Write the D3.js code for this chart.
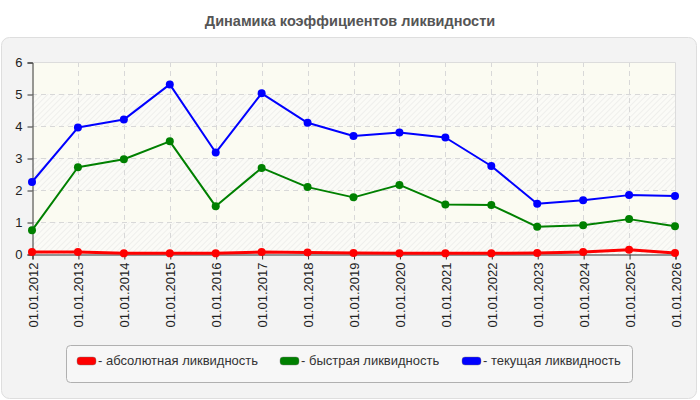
<!DOCTYPE html>
<html>
<head>
<meta charset="utf-8">
<script src="https://cdn.jsdelivr.net/npm/d3@7"></script>
<style>
  body { margin: 0; background: #fff; font-family: "Liberation Sans", Arial, sans-serif; }
</style>
</head>
<body>
<div id="root"></div>
<script>
const width = 700;
const height = 400;

const dates = ["01.01.2012", "01.01.2013", "01.01.2014", "01.01.2015", "01.01.2016",
  "01.01.2017", "01.01.2018", "01.01.2019", "01.01.2020", "01.01.2021",
  "01.01.2022", "01.01.2023", "01.01.2024", "01.01.2025", "01.01.2026"];
const absolute = [0.06, 0.06, 0.02, 0.02, 0.02, 0.06, 0.05, 0.03, 0.02, 0.02, 0.02, 0.03, 0.06, 0.13, 0.03];
const quick = [0.74, 2.71, 2.96, 3.52, 1.49, 2.69, 2.09, 1.77, 2.16, 1.55, 1.53, 0.85, 0.9, 1.09, 0.87];
const current = [2.25, 3.95, 4.2, 5.3, 3.17, 5.02, 4.1, 3.69, 3.8, 3.64, 2.75, 1.57, 1.68, 1.84, 1.81];
const yTicks = [0, 1, 2, 3, 4, 5, 6];
const seriesNames = ["- абсолютная ликвидность", "- быстрая ликвидность", "- текущая ликвидность"];
const seriesColors = ["#ff0000", "#008000", "#0000ff"];

const plotLeft = 32, plotRight = 675, plotTop = 62, plotBottom = 254;

let svg = d3.select("#root")
  .append("svg")
  .attr("width", width)
  .attr("height", height);

let defs = svg.append("defs");
let pattern = defs.append("pattern")
  .attr("id", "hatch")
  .attr("patternUnits", "userSpaceOnUse")
  .attr("width", 4)
  .attr("height", 4)
  .attr("patternTransform", "rotate(45)");
pattern.append("rect").attr("width", 4).attr("height", 4).attr("fill", "#fbfbf7");
pattern.append("line")
  .attr("x1", 0).attr("y1", 0).attr("x2", 0).attr("y2", 4)
  .attr("stroke", "#e9e9e6").attr("stroke-width", 1.3);

// title
svg.append("text")
  .attr("x", 350)
  .attr("y", 26)
  .attr("text-anchor", "middle")
  .style("font-size", "14.5px")
  .style("font-weight", "bold")
  .style("fill", "#555")
  .text("Динамика коэффициентов ликвидности");

// panel
svg.append("rect")
  .attr("x", 1.5).attr("y", 37.5)
  .attr("width", 695).attr("height", 361)
  .attr("rx", 8)
  .attr("fill", "#f3f3f3")
  .attr("stroke", "#dedede");

let xScale = d3.scalePoint().domain(dates).range([plotLeft, plotRight]);
let yScale = d3.scaleLinear().domain([0, 6]).range([plotBottom, plotTop]);

// plot background: alternating plain / hatched bands
svg.append("g")
  .selectAll("rect")
  .data(yTicks.slice(0, -1))
  .enter()
  .append("rect")
  .attr("x", plotLeft)
  .attr("width", plotRight - plotLeft)
  .attr("y", (d) => yScale(d + 1))
  .attr("height", (d) => yScale(d) - yScale(d + 1))
  .attr("fill", (d) => (d % 2 === 0 ? "url(#hatch)" : "#fbfbf2"));

// grid
svg.append("g")
  .selectAll("line")
  .data(yTicks.slice(1, -1))
  .enter()
  .append("line")
  .attr("x1", plotLeft).attr("x2", plotRight)
  .attr("y1", (d) => Math.round(yScale(d)) + 0.5)
  .attr("y2", (d) => Math.round(yScale(d)) + 0.5)
  .attr("stroke", "#d8d8d8")
  .attr("stroke-dasharray", "5,4");

svg.append("g")
  .selectAll("line")
  .data(dates.slice(1, -1))
  .enter()
  .append("line")
  .attr("y1", plotTop).attr("y2", plotBottom)
  .attr("x1", (d) => Math.round(xScale(d)) + 0.5)
  .attr("x2", (d) => Math.round(xScale(d)) + 0.5)
  .attr("stroke", "#d8d8d8")
  .attr("stroke-dasharray", "5,4");

// top & right border of plot
svg.append("path")
  .attr("d", `M${plotLeft},${plotTop + 0.5}H${plotRight + 0.5}V${plotBottom}`)
  .attr("fill", "none")
  .attr("stroke", "#dcdcdc");

// axes
let yAxis = d3.axisLeft(yScale).tickValues(yTicks).tickFormat(d3.format("d")).tickSize(5).tickPadding(5);
svg.append("g")
  .attr("transform", `translate(${plotLeft + 0.5}, 0.5)`)
  .call(yAxis)
  .call((g) => g.selectAll("text").style("font-size", "13px").style("fill", "#222").style("font-family", "Liberation Sans, Arial, sans-serif"))
  .call((g) => g.selectAll("line, path").attr("stroke", "#333"));

let xAxis = d3.axisBottom(xScale).tickSize(5).tickPadding(4);
svg.append("g")
  .attr("transform", `translate(0.5, ${plotBottom + 0.5})`)
  .call(xAxis)
  .call((g) => g.selectAll("line, path").attr("stroke", "#333"))
  .call((g) => g.selectAll("text")
    .style("font-size", "13px")
    .style("fill", "#222")
    .style("font-family", "Liberation Sans, Arial, sans-serif")
    .attr("transform", "rotate(-90)")
    .attr("text-anchor", "end")
    .attr("x", -8)
    .attr("y", 0)
    .attr("dy", "0.35em"));

// series
let allSeries = [absolute, quick, current];
let line = d3.line()
  .x((d, i) => xScale(dates[i]))
  .y((d) => yScale(d));

allSeries.forEach(function (values, k) {
  svg.append("path")
    .datum(values)
    .attr("d", line)
    .attr("fill", "none")
    .attr("stroke", seriesColors[k])
    .attr("stroke-width", k === 0 ? 3 : 2)
    .attr("stroke-linejoin", "round");

  svg.append("g")
    .selectAll("circle")
    .data(values)
    .enter()
    .append("circle")
    .attr("cx", (d, i) => xScale(dates[i]))
    .attr("cy", (d) => yScale(d))
    .attr("r", 4)
    .attr("fill", seriesColors[k]);
});

// legend
svg.append("rect")
  .attr("x", 66.5).attr("y", 345.5)
  .attr("width", 566).attr("height", 37)
  .attr("rx", 4)
  .attr("fill", "#f7f7f7")
  .attr("stroke", "#b0b0b0");

let legendX = [77, 280, 462];
seriesNames.forEach(function (name, k) {
  svg.append("rect")
    .attr("x", legendX[k]).attr("y", 357)
    .attr("width", 19).attr("height", 8)
    .attr("rx", 3)
    .attr("fill", seriesColors[k])
    .attr("stroke", "#777")
    .attr("stroke-width", 0.4);
  svg.append("text")
    .attr("x", legendX[k] + 21)
    .attr("y", 365)
    .style("font-size", "13px")
    .style("fill", "#333")
    .text(name);
});
</script>
</body>
</html>
